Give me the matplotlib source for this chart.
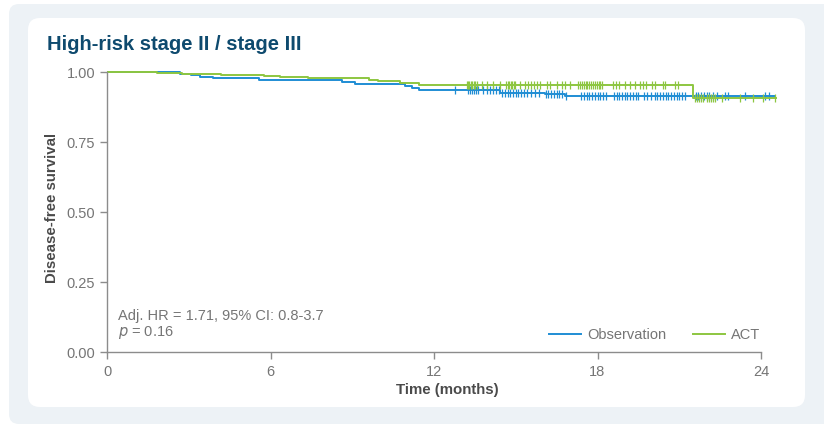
import numpy as np
import matplotlib.pyplot as plt
from matplotlib.patches import FancyBboxPatch
from matplotlib.transforms import IdentityTransform

plt.rcParams['font.family'] = ['Liberation Sans', 'DejaVu Sans']

# Kaplan-Meier step points (months, survival)
obs_t = [0, 2.68, 3.10, 3.41, 3.90, 5.59, 8.64, 9.10, 10.94, 11.18, 11.46, 14.42, 16.07, 16.80, 24.50]
obs_s = [1.0, 0.993, 0.988, 0.983, 0.979, 0.970, 0.963, 0.958, 0.950, 0.943, 0.936, 0.926, 0.920, 0.915, 0.915]
act_t = [0, 1.82, 2.74, 4.20, 5.76, 6.35, 7.39, 9.60, 9.96, 10.75, 11.46, 21.52, 24.55]
act_s = [1.0, 0.996, 0.993, 0.990, 0.987, 0.983, 0.977, 0.971, 0.967, 0.960, 0.954, 0.907, 0.907]

# censoring times (months)
obs_cens = [12.77, 13.25, 13.32, 13.39, 13.47, 13.54, 13.61, 13.80, 13.94, 14.06, 14.17, 14.28, 14.39,
            14.50, 14.60, 14.70, 14.80, 14.90, 15.00, 15.10, 15.20, 15.30, 15.40, 15.55, 15.70, 15.85,
            16.10, 16.20, 16.30, 16.40, 16.50, 16.60, 16.70, 16.85,
            17.40, 17.50, 17.60, 17.70, 17.80, 17.90, 18.00, 18.10, 18.20, 18.30,
            18.60, 18.70, 18.80, 18.90, 19.00, 19.10, 19.20, 19.30, 19.40, 19.50,
            19.70, 19.80, 19.95, 20.10, 20.20, 20.30, 20.40, 20.50, 20.60, 20.70, 20.80, 20.90,
            21.00, 21.10, 21.20, 21.60, 21.70, 21.80, 21.90, 22.00, 22.10, 22.25, 22.40,
            22.68, 22.78, 23.41, 24.15, 24.30]
act_cens = [13.21, 13.25, 13.30, 13.36, 13.41, 13.47, 13.52, 13.58, 13.76, 13.94, 14.17, 14.42,
            14.64, 14.70, 14.75, 14.81, 14.86, 14.92, 14.97, 15.16, 15.34, 15.45, 15.56, 15.67,
            15.78, 15.89, 16.15, 16.26, 16.51, 16.70, 16.81, 16.99,
            17.28, 17.35, 17.42, 17.49, 17.56, 17.63, 17.70, 17.77, 17.84, 17.91, 17.98, 18.05, 18.09,
            18.17, 18.57, 18.68, 18.79, 19.01, 19.19, 19.38, 19.56, 19.67, 19.78, 20.00, 20.11,
            20.40, 20.48, 20.84, 20.95, 21.58, 21.65, 21.72, 21.80, 21.87,
            22.02, 22.09, 22.17, 22.24, 22.31, 22.57, 23.23, 23.71, 24.07, 24.50]

BLUE = "#1f8dd4"
GREEN = "#8dc640"
GREY = "#757575"
TITLE = "#0e4a6e"


def surv_at(times, t_steps, s_steps):
    idx = np.searchsorted(t_steps, times, side="right") - 1
    return np.asarray(s_steps)[idx]


fig = plt.figure(figsize=(8.24, 4.24), dpi=100, facecolor="white")
fig.add_artist(FancyBboxPatch((9, 0), 830, 420, boxstyle="round,pad=0,rounding_size=10",
                              transform=IdentityTransform(), fc="#edf2f6", ec="none", zorder=-20))
fig.add_artist(FancyBboxPatch((28, 17), 777, 389, boxstyle="round,pad=0,rounding_size=12",
                              transform=IdentityTransform(), fc="white", ec="none", zorder=-10))

ax = fig.add_axes([107 / 824, 72 / 424, 681.25 / 824, 288.4 / 424])
ax.set_facecolor("none")

for t, s, cens, col, lab in [(obs_t, obs_s, obs_cens, BLUE, "Observation"),
                              (act_t, act_s, act_cens, GREEN, "ACT")]:
    ax.plot(t, s, drawstyle="steps-post", color=col, lw=1.4, label=lab)
    ax.plot(cens, surv_at(cens, t, s), ls="none", marker="|", ms=6, mew=0.9, color=col)

ax.set_xlim(0, 25)
ax.set_ylim(0, 1.03)
ax.set_xticks([0, 6, 12, 18, 24])
ax.set_yticks([0, 0.25, 0.5, 0.75, 1.0])
ax.set_yticklabels(["0.00", "0.25", "0.50", "0.75", "1.00"])
ax.spines["left"].set_bounds(0, 1)
ax.spines["bottom"].set_bounds(0, 24)
for side in ["top", "right"]:
    ax.spines[side].set_visible(False)
for side in ["left", "bottom"]:
    ax.spines[side].set_color("#8c8c8c")
    ax.spines[side].set_linewidth(1.0)
ax.tick_params(colors="#8c8c8c", labelcolor=GREY, labelsize=10.5, length=5, width=1.0)
ax.tick_params(axis="x", pad=4)

ax.set_xlabel("Time (months)", fontsize=10.8, fontweight="bold", color="#4a4a4a", labelpad=3)
ax.set_ylabel("Disease-free survival", fontsize=10.8, fontweight="bold", color="#4a4a4a", labelpad=5)

ax.text(0.4, 0.129, "Adj. HR = 1.71, 95% CI: 0.8-3.7", fontsize=10.5, color=GREY, va="center")
ax.text(0.4, 0.068, "$\\it{p}$ = 0.16", fontsize=10.5, color=GREY, va="center")

ax.legend(loc="lower right", bbox_to_anchor=(0.968, 0.014), borderaxespad=0, ncol=2, frameon=False,
          fontsize=10.5, labelcolor=GREY, handlelength=2.2, columnspacing=1.8, handletextpad=0.45)

fig.text(47 / 824, 1 - 45 / 424, "High-risk stage II / stage III", fontsize=14.5, fontweight="bold",
         color=TITLE, va="center", ha="left")

fig.savefig("out.png", dpi=100, facecolor=fig.get_facecolor())
